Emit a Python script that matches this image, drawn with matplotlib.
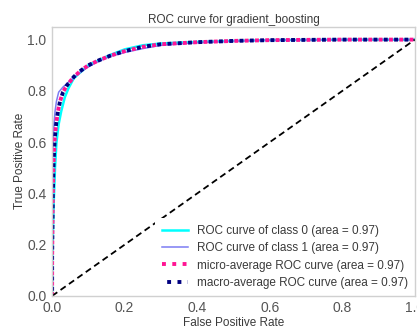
import numpy as np
import matplotlib
matplotlib.use("Agg")
import matplotlib.pyplot as plt

fpr_class0 = [0, 0.0, 0.004, 0.008, 0.012, 0.018, 0.025, 0.035, 0.045, 0.06, 0.08, 0.1, 0.13, 0.16,
              0.2, 0.25, 0.3, 0.4, 0.5, 0.6, 0.8, 1.0]
tpr_class0 = [0, 0.12, 0.35, 0.5, 0.6, 0.67, 0.72, 0.775, 0.81, 0.85, 0.875, 0.9, 0.92, 0.94,
              0.962, 0.978, 0.985, 0.991, 0.995, 0.998, 1.0, 1.0]

fpr_class1 = [0, 0.0, 0.002, 0.005, 0.008, 0.012, 0.018, 0.03, 0.05, 0.07, 0.09, 0.12, 0.16,
              0.2, 0.25, 0.3, 0.4, 0.5, 0.6, 0.8, 1.0]
tpr_class1 = [0, 0.3, 0.58, 0.67, 0.72, 0.76, 0.795, 0.815, 0.84, 0.865, 0.885, 0.91, 0.935,
              0.95, 0.965, 0.978, 0.988, 0.994, 0.998, 1.0, 1.0]

fpr_micro = [0, 0.0, 0.002, 0.004, 0.007, 0.011, 0.016, 0.022, 0.03, 0.04, 0.06, 0.08, 0.1,
             0.13, 0.16, 0.2, 0.25, 0.3, 0.4, 0.5, 0.6, 0.8, 1.0]
tpr_micro = [0, 0.15, 0.4, 0.52, 0.61, 0.67, 0.72, 0.76, 0.795, 0.82, 0.855, 0.88, 0.9,
             0.92, 0.937, 0.955, 0.972, 0.982, 0.99, 0.995, 0.998, 1.0, 1.0]

fpr_macro = fpr_micro
tpr_macro = [0, 0.15, 0.4, 0.52, 0.61, 0.67, 0.72, 0.76, 0.795, 0.82, 0.855, 0.88, 0.9,
             0.92, 0.937, 0.955, 0.972, 0.982, 0.99, 0.995, 0.998, 1.0, 1.0]

labels = ["ROC curve of class 0 (area = 0.97)",
          "ROC curve of class 1 (area = 0.97)",
          "micro-average ROC curve (area = 0.97)",
          "macro-average ROC curve (area = 0.97)"]

plt.rcParams["font.family"] = ["Liberation Sans", "DejaVu Sans"]
plt.rcParams["text.color"] = "#3a3a3a"
plt.rcParams["axes.labelcolor"] = "#3a3a3a"
plt.rcParams["xtick.color"] = "#555555"
plt.rcParams["ytick.color"] = "#555555"

fig = plt.figure(figsize=(4.17, 3.31), dpi=100)
ax = fig.add_axes([0.125, 0.106, 0.87, 0.813])

ax.plot(fpr_class0, tpr_class0, color="aqua", lw=1.8, label=labels[0])
ax.plot(fpr_class1, tpr_class1, color="#7c7cf2", lw=1.1, label=labels[1])
ax.plot(fpr_micro, tpr_micro, color="deeppink", lw=2.8, linestyle=(0, (1, 1.65)),
        label=labels[2])
# shift navy dots by half a period so both colours show, as in the reference
ax.plot(fpr_macro, tpr_macro, color="navy", lw=2.8, linestyle=(1.32, (1, 1.65)),
        label=labels[3])
ax.plot([0, 1], [0, 1], color="black", linestyle=(0, (3.5, 2.2)), lw=1.3)

ax.set_xlim(0.0, 1.0)
ax.set_ylim(0.0, 1.05)
ax.set_xticks([0, 0.2, 0.4, 0.6, 0.8, 1.0])
ax.set_yticks([0, 0.2, 0.4, 0.6, 0.8, 1.0])
ax.tick_params(length=0, labelsize=10, pad=4)
for s in ax.spines.values():
    s.set_color("#d0d0d0")
    s.set_linewidth(1)
    s.set_zorder(6)

ax.set_xlabel("False Positive Rate", fontsize=8.5, labelpad=1)
ax.set_ylabel("True Positive Rate", fontsize=8.5, labelpad=1)
ax.set_title("ROC curve for gradient_boosting", fontsize=8.5, pad=3)
leg = ax.legend(loc="lower right", fontsize=8.5, frameon=True, handlelength=2.2,
                handletextpad=0.7, labelspacing=0.45, borderaxespad=0.0,
                borderpad=0.6, fancybox=False)
leg.get_frame().set_edgecolor("none")
leg.get_frame().set_alpha(1.0)

fig.savefig("out.png", dpi=100)
